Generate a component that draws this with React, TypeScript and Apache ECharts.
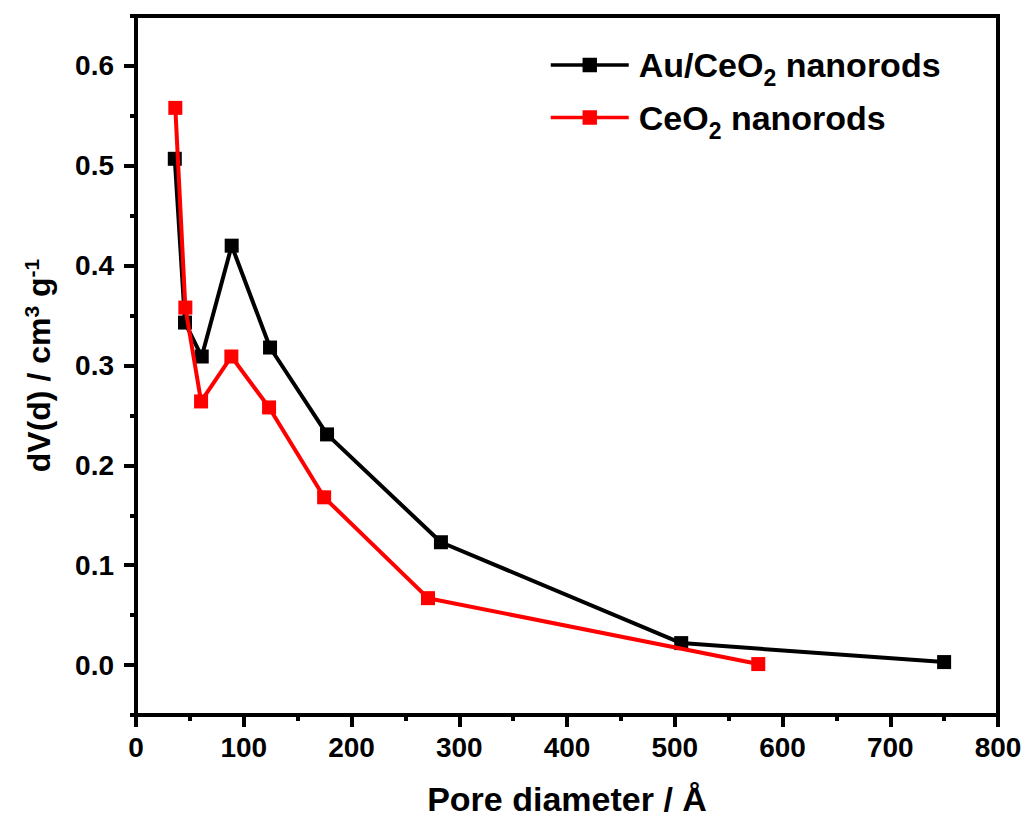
import React, { useEffect, useRef } from "react";
import * as echarts from "echarts";

const auX = [36, 45.5, 61, 88.8, 124.4, 177.3, 283, 506, 750];
const auY = [0.507, 0.343, 0.309, 0.42, 0.318, 0.231, 0.123, 0.022, 0.003];
const ceX = [36.5, 45.8, 60.4, 88.5, 123.5, 174.6, 271, 577.5];
const ceY = [0.558, 0.358, 0.264, 0.309, 0.258, 0.168, 0.067, 0.001];
const yMajor = [0, 0.1, 0.2, 0.3, 0.4, 0.5, 0.6];
const yMinor = [-0.05, 0.05, 0.15, 0.25, 0.35, 0.45, 0.55, 0.65];
const seriesNames = ["Au/CeO2 nanorods", "CeO2 nanorods"];

const FONT = "'Liberation Sans', Arial, sans-serif";

export default function App() {
  const ref = useRef<HTMLDivElement>(null);
  useEffect(() => {
    if (!ref.current) return;
    const chart = echarts.init(ref.current, undefined, { renderer: "svg" });
    const axisLineStyle = { color: "#000", width: 4 };
    chart.setOption({
      animation: false,
      textStyle: { fontFamily: FONT },
      grid: {
        left: 136,
        right: 29,
        top: 16,
        bottom: 107,
        show: true,
        borderColor: "#000",
        borderWidth: 4,
        containLabel: false,
      },
      legend: {
        orient: "vertical",
        left: 549,
        top: 48,
        padding: 0,
        itemWidth: 78,
        itemHeight: 18,
        itemGap: 11,
        data: seriesNames,
        lineStyle: { width: 3.5 },
        formatter: (n: string) =>
          n === seriesNames[0] ? "Au/CeO{sub|2} nanorods" : "CeO{sub|2} nanorods",
        textStyle: {
          fontFamily: FONT,
          fontSize: 34,
          fontWeight: "bold",
          color: "#000",
          padding: [0, 0, 0, 5],
          rich: {
            sub: {
              fontFamily: FONT,
              fontSize: 23,
              fontWeight: "bold",
              color: "#000",
              verticalAlign: "bottom",
              padding: [26, 0, 0, 0],
            },
          },
        },
      },
      xAxis: {
        type: "value",
        min: 0,
        max: 800,
        interval: 100,
        name: "Pore diameter / Å",
        nameLocation: "middle",
        nameGap: 67,
        nameTextStyle: { fontFamily: FONT, fontSize: 34, fontWeight: "bold", color: "#000" },
        axisLine: { onZero: false, lineStyle: axisLineStyle },
        axisTick: { inside: false, length: 12, lineStyle: { color: "#000", width: 4 } },
        minorTick: { show: true, splitNumber: 2, length: 6, lineStyle: { color: "#000", width: 4 } },
        axisLabel: { fontFamily: FONT, fontSize: 28, fontWeight: "bold", color: "#000", margin: 18 },
        splitLine: { show: false },
        minorSplitLine: { show: false },
      },
      yAxis: [
        {
          type: "value",
          min: -0.05,
          max: 0.65,
          name: "dV(d) / cm{sup|3} g{sup|-1}",
          nameLocation: "middle",
          nameGap: 80,
          nameRotate: 90,
          nameTextStyle: {
            fontFamily: FONT,
            fontSize: 32,
            fontWeight: "bold",
            color: "#000",
            rich: {
              sup: {
                fontFamily: FONT,
                fontSize: 21,
                fontWeight: "bold",
                color: "#000",
                verticalAlign: "top",
                padding: [0, 0, 14, 0],
              },
            },
          },
          axisLine: { onZero: false, lineStyle: axisLineStyle },
          axisTick: {
            inside: false,
            length: 12,
            customValues: yMajor,
            lineStyle: { color: "#000", width: 4 },
          },
          axisLabel: {
            fontFamily: FONT,
            fontSize: 28,
            fontWeight: "bold",
            color: "#000",
            margin: 22,
            customValues: yMajor,
            formatter: (v: number) => v.toFixed(1),
          },
          splitLine: { show: false },
        },
        {
          type: "value",
          min: -0.05,
          max: 0.65,
          position: "left",
          axisLine: { show: false, onZero: false },
          axisTick: {
            show: true,
            inside: false,
            length: 6,
            customValues: yMinor,
            lineStyle: { color: "#000", width: 4 },
          },
          axisLabel: { show: false },
          splitLine: { show: false },
        },
      ],
      series: [
        {
          name: seriesNames[0],
          type: "line",
          data: auX.map((x, i) => [x, auY[i]]),
          symbol: "rect",
          symbolSize: 14,
          lineStyle: { color: "#000", width: 4 },
          itemStyle: { color: "#000" },
          z: 2,
        },
        {
          name: seriesNames[1],
          type: "line",
          data: ceX.map((x, i) => [x, ceY[i]]),
          symbol: "rect",
          symbolSize: 14,
          lineStyle: { color: "#ff0000", width: 4 },
          itemStyle: { color: "#ff0000" },
          z: 3,
        },
      ],
    });
    return () => chart.dispose();
  }, []);
  return <div ref={ref} style={{ width: 1027, height: 822, position: "absolute", left: 0, top: 0 }} />;
}
